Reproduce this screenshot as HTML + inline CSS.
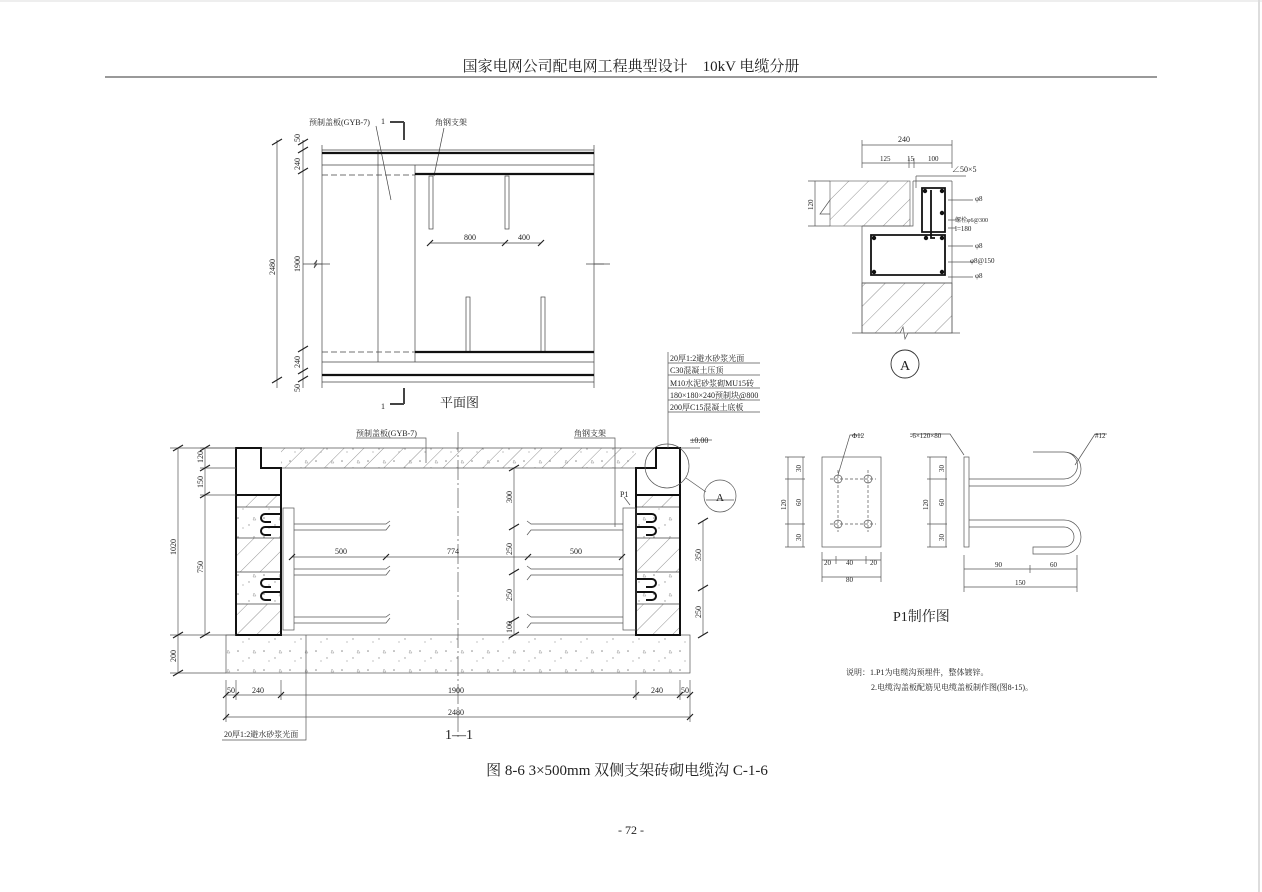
<!DOCTYPE html>
<html><head><meta charset="utf-8"><style>
body{margin:0;background:#fff}
svg{display:block}
text{font-family:"Liberation Serif","Noto Serif CJK SC","Noto Sans CJK SC",serif;fill:#222}
.t{font-size:8px}
.s{font-size:7px}
</style></head><body>
<svg width="1262" height="892" viewBox="0 0 1262 892" xmlns="http://www.w3.org/2000/svg">
<defs>
<pattern id="h" width="14" height="14" patternUnits="userSpaceOnUse" patternTransform="rotate(45)"><line x1="0" y1="0" x2="0" y2="14" stroke="#777" stroke-width="0.8"/></pattern>
<pattern id="d" width="26" height="19" patternUnits="userSpaceOnUse"><circle cx="4" cy="5" r="0.8" fill="#888"/><circle cx="15" cy="12" r="0.7" fill="#999"/><path d="M20 4l2 3h-3z" fill="none" stroke="#999" stroke-width="0.5"/><circle cx="9" cy="15" r="0.6" fill="#999"/></pattern>
</defs>
<rect width="1262" height="892" fill="#fff"/>
<line x1="1259" y1="0" x2="1259" y2="892" stroke="#bbb"/>
<line x1="0" y1="1" x2="1262" y2="1" stroke="#ddd"/>
<text x="631" y="71" font-size="15" text-anchor="middle">国家电网公司配电网工程典型设计　10kV 电缆分册</text>
<line x1="105" y1="77" x2="1157" y2="77" stroke="#333" stroke-width="1"/>

<!-- PLAN VIEW -->
<g stroke="#444" fill="none" stroke-width="0.7">
<line x1="277" y1="140" x2="277" y2="388"/><line x1="303" y1="140" x2="303" y2="388"/>
<line x1="322" y1="145" x2="322" y2="388"/><line x1="594" y1="145" x2="594" y2="388"/>
<line x1="322" y1="150" x2="594" y2="150"/><line x1="322" y1="165" x2="594" y2="165"/>
<line x1="322" y1="362" x2="594" y2="362"/><line x1="322" y1="382" x2="594" y2="382"/>
<line x1="322" y1="175" x2="415" y2="175" stroke-dasharray="6 3"/><line x1="322" y1="352" x2="415" y2="352" stroke-dasharray="6 3"/>
<line x1="378" y1="150" x2="378" y2="362"/><line x1="415" y1="165" x2="415" y2="362"/>
<path d="M322 264h-8l3-4-3 8 3-4M594 264h10" /><line x1="303" y1="264" x2="330" y2="264"/><line x1="586" y1="264" x2="610" y2="264"/>
<rect x="429" y="176" width="4" height="53"/><rect x="505" y="176" width="4" height="53"/>
<rect x="466" y="297" width="4" height="55"/><rect x="541" y="297" width="4" height="55"/>
<line x1="430" y1="243" x2="541" y2="243"/>
<line x1="390" y1="122" x2="404" y2="122" stroke-width="2"/><line x1="404" y1="122" x2="404" y2="140" stroke-width="2"/>
<line x1="390" y1="404" x2="404" y2="404" stroke-width="2"/><line x1="404" y1="388" x2="404" y2="404" stroke-width="2"/>
<path d="M376 126l15 74M444 128l-10 48"/>
</g>
<g stroke="#111" stroke-width="2.2"><line x1="322" y1="153" x2="594" y2="153"/><line x1="415" y1="174" x2="594" y2="174"/><line x1="415" y1="352" x2="594" y2="352"/><line x1="322" y1="375" x2="594" y2="375"/></g>
<g stroke="#222" stroke-width="1.2"><path d="M272 145l10-6M298 145l10-6M298 153l10-6M298 174l10-6M298 352l10-6M298 374l10-6M298 382l10-6M272 383l10-6M427 246l6-6M502 246l6-6M538 246l6-6"/></g>
<g class="t"><text x="309" y="125">预制盖板(GYB-7)</text><text x="435" y="125">角钢支架</text><text x="381" y="124">1</text><text x="381" y="409">1</text>
<text x="464" y="240">800</text><text x="518" y="240">400</text>
<text transform="translate(300,142) rotate(-90)">50</text><text transform="translate(300,170) rotate(-90)">240</text><text transform="translate(300,272) rotate(-90)">1900</text><text transform="translate(300,368) rotate(-90)">240</text><text transform="translate(300,392) rotate(-90)">50</text><text transform="translate(275,275) rotate(-90)">2480</text></g>
<text x="440" y="407" font-size="13">平面图</text>

<!-- SECTION 1-1 -->
<rect x="226" y="635" width="464" height="38" fill="url(#d)" stroke="#555" stroke-width="0.7"/>
<rect x="281" y="448" width="355" height="20" fill="url(#h)"/>
<rect x="281" y="448" width="355" height="20" fill="url(#d)" stroke="none"/>
<line x1="200" y1="448" x2="700" y2="448" stroke="#555" stroke-width="0.7"/>
<line x1="281" y1="468" x2="636" y2="468" stroke="#555" stroke-width="0.7"/>
<g fill="url(#h)" stroke="#555" stroke-width="0.6">
<rect x="236" y="495" width="45" height="12"/><rect x="236" y="538" width="45" height="34"/><rect x="236" y="604" width="45" height="31"/>
<rect x="636" y="495" width="44" height="12"/><rect x="636" y="538" width="44" height="34"/><rect x="636" y="604" width="44" height="31"/>
</g>
<g fill="url(#d)" stroke="#555" stroke-width="0.6"><rect x="236" y="507" width="45" height="31"/><rect x="236" y="572" width="45" height="32"/><rect x="636" y="507" width="44" height="31"/><rect x="636" y="572" width="44" height="32"/></g>
<g fill="none" stroke="#111" stroke-width="2">
<path d="M236 448H261V468H281V635H236Z"/><path d="M656 448H680V635H636V468H656Z"/><line x1="236" y1="495" x2="281" y2="495"/><line x1="636" y1="495" x2="680" y2="495"/>
<path d="M281 514h-16a4 4 0 0 0 0 8h6M281 527h-16a4 4 0 0 0 0 8h6M281 579h-16a4 4 0 0 0 0 8h6M281 592h-16a4 4 0 0 0 0 8h6"/>
<path d="M636 514h16a4 4 0 0 1 0 8h-6M636 527h16a4 4 0 0 1 0 8h-6M636 579h16a4 4 0 0 1 0 8h-6M636 592h16a4 4 0 0 1 0 8h-6"/>
</g>
<g fill="none" stroke="#555" stroke-width="0.7">
<rect x="283" y="508" width="11" height="122"/><rect x="623" y="508" width="13" height="122"/>
<path d="M294 524h92l4 -3M294 530h92l4-5M294 569h92l4-3M294 575h92l4-5M294 617h92l4-3M294 623h92l4-5"/>
<path d="M623 524h-92l-4-3M623 530h-92l-4 5M623 569h-92l-4-3M623 575h-92l-4 5M623 617h-92l-4-3M623 623h-92l-4 5"/>
<line x1="458" y1="432" x2="458" y2="740" stroke-dasharray="20 3 2 3"/>
<line x1="178" y1="448" x2="178" y2="673"/><line x1="205" y1="448" x2="205" y2="635"/><line x1="514" y1="468" x2="514" y2="635"/><line x1="703" y1="521" x2="703" y2="635"/>
<line x1="170" y1="448" x2="236" y2="448"/><line x1="170" y1="635" x2="236" y2="635"/><line x1="170" y1="673" x2="226" y2="673"/><line x1="200" y1="468" x2="236" y2="468"/><line x1="200" y1="495" x2="236" y2="495"/>
<line x1="292" y1="557" x2="386" y2="557"/><line x1="386" y1="557" x2="528" y2="557"/><line x1="528" y1="557" x2="622" y2="557"/>
<line x1="226" y1="695" x2="690" y2="695"/><line x1="226" y1="717" x2="690" y2="717"/>
<line x1="226" y1="680" x2="226" y2="722"/><line x1="690" y1="680" x2="690" y2="722"/><line x1="236" y1="680" x2="236" y2="700"/><line x1="281" y1="680" x2="281" y2="700"/><line x1="636" y1="680" x2="636" y2="700"/><line x1="680" y1="680" x2="680" y2="700"/>
<path d="M306 635V740H222"/><path d="M426 463V438H356"/><path d="M615 527V438H574"/><path d="M630 505l-6 -8"/>
<circle cx="667" cy="466" r="22"/><line x1="686" y1="478" x2="706" y2="492"/><circle cx="720" cy="496" r="16"/><line x1="706" y1="500" x2="734" y2="500"/>
<path d="M668 352V448M668 363h92M668 375h92M668 388h92M668 400h92M668 412h92"/><line x1="690" y1="440" x2="712" y2="440"/>
</g>
<g stroke="#222" stroke-width="1.2"><path d="M173 451l10-6M173 638l10-6M173 676l10-6M200 451l10-6M200 471l10-6M200 498l10-6M200 638l10-6M509 471l10-6M509 530l10-6M509 575l10-6M509 623l10-6M509 638l10-6M698 524l10-6M698 591l10-6M698 638l10-6M289 560l6-6M383 560l6-6M525 560l6-6M619 560l6-6M223 698l6-6M233 698l6-6M278 698l6-6M633 698l6-6M677 698l6-6M687 698l6-6M223 720l6-6M687 720l6-6"/></g>
<g class="t">
<text x="356" y="436">预制盖板(GYB-7)</text><text x="574" y="436">角钢支架</text><text x="620" y="497">P1</text><text x="690" y="443">±0.00</text>
<text x="670" y="361">20厚1:2避水砂浆光面</text><text x="670" y="373">C30混凝土压顶</text><text x="670" y="386">M10水泥砂浆砌MU15砖</text><text x="670" y="398">180×180×240预制块@800</text><text x="670" y="410">200厚C15混凝土底板</text>
<text x="335" y="554">500</text><text x="447" y="554">774</text><text x="570" y="554">500</text>
<text x="227" y="693">50</text><text x="252" y="693">240</text><text x="448" y="693">1900</text><text x="651" y="693">240</text><text x="681" y="693">50</text><text x="448" y="715">2480</text>
<text x="224" y="737">20厚1:2避水砂浆光面</text>
<text transform="translate(176,555) rotate(-90)">1020</text><text transform="translate(203,463) rotate(-90)">120</text><text transform="translate(203,488) rotate(-90)">150</text><text transform="translate(203,573) rotate(-90)">750</text><text transform="translate(176,662) rotate(-90)">200</text>
<text transform="translate(512,503) rotate(-90)">300</text><text transform="translate(512,555) rotate(-90)">250</text><text transform="translate(512,601) rotate(-90)">250</text><text transform="translate(512,633) rotate(-90)">100</text>
<text transform="translate(701,561) rotate(-90)">350</text><text transform="translate(701,618) rotate(-90)">250</text>
</g>
<text x="720" y="501" font-size="11" text-anchor="middle">A</text>
<text x="445" y="739" font-size="14">1—1</text>

<!-- DETAIL A -->
<rect x="830" y="181" width="80" height="45" fill="url(#h)" stroke="#555" stroke-width="0.6"/>
<rect x="862" y="283" width="90" height="50" fill="url(#h)" stroke="#555" stroke-width="0.6"/>
<g fill="none" stroke="#555" stroke-width="0.7">
<path d="M862 226V333M952 181V333M913 181H952M913 181V226H862M862 283H952M852 333H900l3-6 2 12 3-6H960"/>
<path d="M862 145H952M862 163H952M862 140V168M952 140V168M909 158V168M914 158V168M815 181V226M808 181H830M808 226H830M830 200l-10 14h10"/>
<path d="M916 176v12M916 176h50"/><path d="M948 200h25M948 220h8M948 228h8M948 246h25M948 262h25M948 277h25"/>
</g>
<g fill="none" stroke="#111" stroke-width="1.8"><path d="M922 188H945V232H922ZM871 235H945V275H871Z"/><path d="M931 190v48h4"/></g>
<g fill="#111"><circle cx="925" cy="191" r="2.2"/><circle cx="942" cy="191" r="2.2"/><circle cx="942" cy="213" r="2.2"/><circle cx="874" cy="238" r="2.2"/><circle cx="926" cy="238" r="2.2"/><circle cx="942" cy="238" r="2.2"/><circle cx="874" cy="272" r="2.2"/><circle cx="942" cy="272" r="2.2"/></g>
<g class="s"><text x="898" y="142" font-size="8">240</text><text x="880" y="161">125</text><text x="907" y="161">15</text><text x="928" y="161">100</text><text x="952" y="172" font-size="8">∠50×5</text><text x="975" y="201">φ8</text><text x="955" y="222" font-size="6">螺栓φ6@300</text><text x="955" y="231">l=180</text><text x="975" y="248">φ8</text><text x="970" y="263">φ8@150</text><text x="975" y="278">φ8</text><text transform="translate(813,210) rotate(-90)">120</text></g>
<circle cx="905" cy="364" r="14" fill="none" stroke="#333" stroke-width="0.9"/><text x="905" y="370" font-size="14" text-anchor="middle">A</text>

<!-- P1 -->
<g fill="none" stroke="#555" stroke-width="0.7">
<rect x="822" y="457" width="59" height="90"/>
<circle cx="838" cy="479" r="4"/><circle cx="868" cy="479" r="4"/><circle cx="838" cy="524" r="4"/><circle cx="868" cy="524" r="4"/>
<path d="M830 479h46M830 524h46M838 470v62M868 470v62" stroke-dasharray="3 2"/>
<path d="M838 475l12-40h12"/>
<path d="M788 457V547M803 457V547M785 457h20M785 479h20M785 524h20M785 547h20M822 560H881M822 577H881M822 552V582M881 552V582M836 556v8M866 556v8"/>
<rect x="964" y="457" width="5" height="90"/>
<path d="M969 479H1064a9 9 0 0 0 0-27H1033V452M969 486H1064a16 16 0 0 0 0-34" />
<path d="M969 520H1064a16 16 0 0 1 0 34H1033V547H1064a9 9 0 0 0 0-20H969"/>
<path d="M964 455l-14-21h-40M1075 465l20-31h12"/>
<path d="M930 457V547M946 457V547M927 457h20M927 479h20M927 524h20M927 547h20M964 569H1077M964 587H1077M964 555V592M1030 565V573M1077 555V592"/>
</g>
<g class="s"><text x="852" y="438">Φ12</text><text x="910" y="438">-6×120×80</text><text x="1095" y="438">#12</text>
<text x="824" y="565">20</text><text x="846" y="565">40</text><text x="870" y="565">20</text><text x="846" y="582">80</text>
<text x="995" y="567">90</text><text x="1050" y="567">60</text><text x="1015" y="585">150</text>
<text transform="translate(786,510) rotate(-90)">120</text><text transform="translate(801,472) rotate(-90)">30</text><text transform="translate(801,506) rotate(-90)">60</text><text transform="translate(801,541) rotate(-90)">30</text>
<text transform="translate(928,510) rotate(-90)">120</text><text transform="translate(944,472) rotate(-90)">30</text><text transform="translate(944,506) rotate(-90)">60</text><text transform="translate(944,541) rotate(-90)">30</text></g>
<text x="893" y="621" font-size="14">P1制作图</text>
<text x="846" y="675" font-size="8">说明：1.P1为电缆沟预埋件，整体镀锌。</text>
<text x="871" y="690" font-size="8">2.电缆沟盖板配筋见电缆盖板制作图(图8-15)。</text>

<text x="627" y="775" font-size="15" text-anchor="middle">图 8-6 3×500mm 双侧支架砖砌电缆沟 C-1-6</text>
<text x="631" y="834" font-size="12" text-anchor="middle">- 72 -</text>
</svg>
</body></html>
